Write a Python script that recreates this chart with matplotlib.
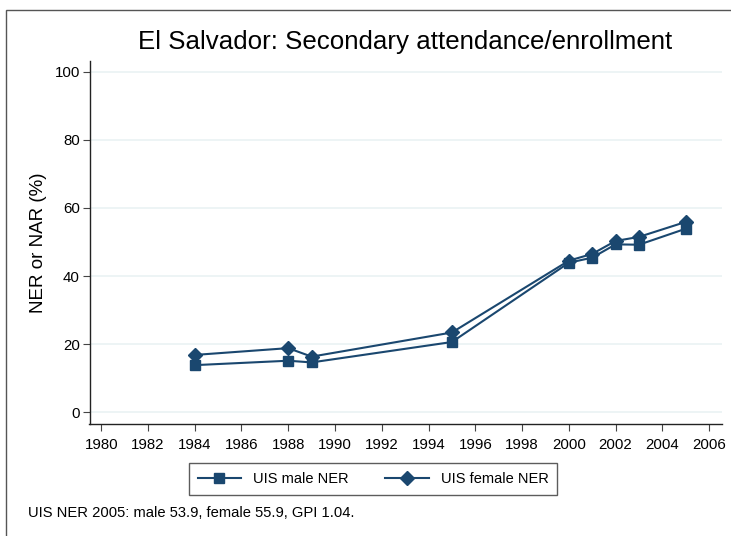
import numpy as np
import matplotlib.pyplot as plt
from matplotlib.patches import Rectangle

plt.rcParams['font.family'] = ['Liberation Sans', 'DejaVu Sans']

years = [1984, 1988, 1989, 1995, 2000, 2001, 2002, 2003, 2005]
male = [13.8, 15.1, 14.6, 20.6, 43.9, 45.4, 49.3, 49.2, 53.9]
female = [16.8, 18.8, 16.3, 23.4, 44.5, 46.5, 50.3, 51.5, 55.9]

x_ticks = list(range(1980, 2007, 2))
y_ticks = [0, 20, 40, 60, 80, 100]

navy = '#1a476f'

fig = plt.figure(figsize=(7.31, 5.36), dpi=100)
fig.patches.append(Rectangle((6 / 731, -0.1), 1.2, (526 / 536) + 0.1,
                             transform=fig.transFigure, fill=False,
                             edgecolor='#555555', linewidth=1.0))

ax = fig.add_axes([89.5 / 731, 112 / 536, (722 - 89.5) / 731, (475 - 112) / 536])
ax.plot(years, male, color=navy, marker='s', markersize=7, linewidth=1.5,
        label='UIS male NER')
ax.plot(years, female, color=navy, marker='D', markersize=7, linewidth=1.5,
        label='UIS female NER')

ax.set_xlim(1979.5, 2006.55)
ax.set_ylim(-3.5, 103.2)
ax.set_xticks(x_ticks)
ax.set_yticks(y_ticks)
ax.tick_params(axis='both', labelsize=10.8, length=5, color='#444444')
ax.tick_params(axis='y', pad=2)
ax.tick_params(axis='x', pad=5)
ax.grid(axis='y', color='#eaf2f3', linewidth=1.2)
ax.set_axisbelow(True)
for s in ['top', 'right']:
    ax.spines[s].set_visible(False)
for s in ['left', 'bottom']:
    ax.spines[s].set_color('#222222')
    ax.spines[s].set_linewidth(1.0)

ax.set_ylabel('NER or NAR (%)', fontsize=13.5, labelpad=5)
fig.text(405 / 731, 1 - 42 / 536, 'El Salvador: Secondary attendance/enrollment',
         ha='center', va='center', fontsize=18.6)

leg = fig.legend(loc='center', bbox_to_anchor=(373 / 731, 1 - 479 / 536), ncol=2,
                 fontsize=10.5, frameon=True, fancybox=False, edgecolor='#333333',
                 handlelength=3, columnspacing=2.5, borderpad=0.6)
leg.get_frame().set_linewidth(1.0)

fig.text(28 / 731, 1 - 513 / 536, 'UIS NER 2005: male 53.9, female 55.9, GPI 1.04.',
         ha='left', va='center', fontsize=10.6)

fig.savefig('out.png', dpi=100)
